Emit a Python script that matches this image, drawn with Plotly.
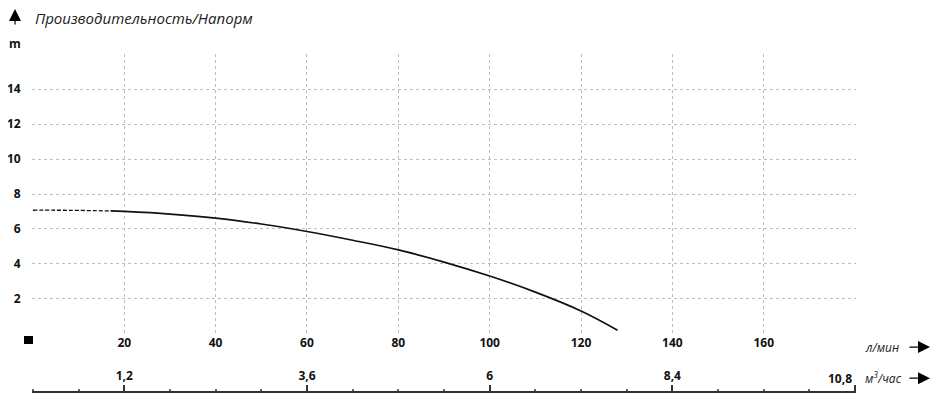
import plotly.graph_objects as go

# performance curve, head (m) vs flow (l/min)
flow_dash = [0, 5, 10, 17]
head_dash = [7.07, 7.07, 7.06, 7.03]
flow = [17, 20, 30, 40, 50, 60, 70, 80, 90, 100, 110, 120, 128]
head = [7.03, 7.0, 6.85, 6.62, 6.28, 5.85, 5.35, 4.8, 4.1, 3.3, 2.38, 1.3, 0.2]

x_ticks = [0, 20, 40, 60, 80, 100, 120, 140, 160, 180]
x_labels = ["", "20", "40", "60", "80", "100", "120", "140", "160", ""]
y_ticks = [0, 2, 4, 6, 8, 10, 12, 14, 16]
y_labels = ["", "2", "4", "6", "8", "10", "12", "14", ""]
m3_ticks = [1.2, 3.6, 6, 8.4, 10.8]
m3_labels = ["1,2", "3,6", "6", "8,4", ""]
m3_last = "10,8"   # drawn separately, right-aligned to its tick
LMIN_TO_M3H = 0.06
x_range = [-0.2, 180.2]

grid = "#bdbdbd"
tick_font = dict(family="Open Sans", size=12, color="#111", weight="bold")

fig = go.Figure()
fig.add_trace(go.Scatter(x=flow_dash, y=head_dash, mode="lines", line_shape="spline",
                         line=dict(color="#111", width=1.3, dash="4px,2px"), hoverinfo="skip"))
fig.add_trace(go.Scatter(x=flow, y=head, mode="lines", line_shape="spline",
                         line=dict(color="#111", width=1.7)))
# invisible copy so the m3/h axis has something to hang on
fig.add_trace(go.Scatter(x=[q * LMIN_TO_M3H for q in flow], y=head, xaxis="x2",
                         mode="lines", line=dict(width=0), opacity=0, hoverinfo="skip"))

fig.update_layout(
    width=940, height=400,
    margin=dict(l=24, r=92, t=46, b=16),
    plot_bgcolor="white", paper_bgcolor="white",
    showlegend=False,
    font=dict(family="Open Sans", color="#111"),
    xaxis=dict(range=x_range, tickvals=x_ticks, ticktext=x_labels, automargin=False,
               showgrid=True, gridcolor=grid, griddash="dot", gridwidth=1,
               zeroline=False, showline=False, ticks="", tickfont=tick_font),
    yaxis=dict(range=[-0.02, 16.02], tickvals=y_ticks, ticktext=y_labels, domain=[0.1716, 1],
               automargin=False,
               showgrid=True, gridcolor=grid, griddash="dot", gridwidth=1,
               zeroline=False, showline=False, ticks="outside", ticklen=8,
               tickcolor="rgba(0,0,0,0)", tickfont=tick_font),
    xaxis2=dict(range=[v * LMIN_TO_M3H for v in x_range], overlaying="x", anchor="free",
                position=0, side="top", tickvals=m3_ticks, ticktext=m3_labels,
                automargin=False,
                showgrid=False, zeroline=False, showline=True, linecolor="#333", linewidth=2,
                ticks="outside", ticklen=6, tickcolor="#333", tickwidth=1.5,
                minor=dict(dtick=0.6, tick0=0, ticks="outside", ticklen=2, tickcolor="#666"),
                tickfont=tick_font),
)

fig.add_annotation(text=m3_last, xref="paper", yref="paper", x=1.0, y=0.0414,
                   xanchor="right", yanchor="middle", xshift=-2, showarrow=False,
                   font=tick_font)

# small black square at the origin
fig.add_shape(type="rect", xref="paper", yref="paper", xsizemode="pixel", ysizemode="pixel",
              xanchor=0, yanchor=0.1716, x0=-8, x1=1, y0=-2, y1=-10,
              fillcolor="black", line=dict(width=0))

ann_font = dict(family="Open Sans", size=15, color="#222", style="italic")
fig.add_annotation(text="Производительность/Напорм", xref="paper", yref="paper",
                   x=0.001, y=1.107, xanchor="left", yanchor="middle",
                   showarrow=False, font=ann_font)
fig.add_annotation(text="<b>m</b>", xref="paper", yref="paper", x=-0.021, y=1.032,
                   xanchor="center", yanchor="middle", showarrow=False,
                   font=dict(family="Open Sans", size=12, color="#111"))
# up arrow
fig.add_annotation(x=-0.0206, y=1.142, xref="paper", yref="paper", ax=0, ay=20,
                   showarrow=True, arrowhead=2, arrowsize=2, arrowwidth=1.2,
                   arrowcolor="black", text="")

unit_font = dict(family="Open Sans", size=12, color="#222", style="italic")
for label, py in [("л/мин", 0.133), ("м<sup>3</sup>/час", 0.041)]:
    fig.add_annotation(text=label, xref="paper", yref="paper", x=1.008, y=py,
                       xanchor="left", yanchor="middle", showarrow=False, font=unit_font)
    fig.add_annotation(x=1.0898, y=py, xref="paper", yref="paper", ax=-22, ay=0,
                       showarrow=True, arrowhead=2, arrowsize=2, arrowwidth=1.2,
                       arrowcolor="black", text="")

fig.write_html("out.html")
